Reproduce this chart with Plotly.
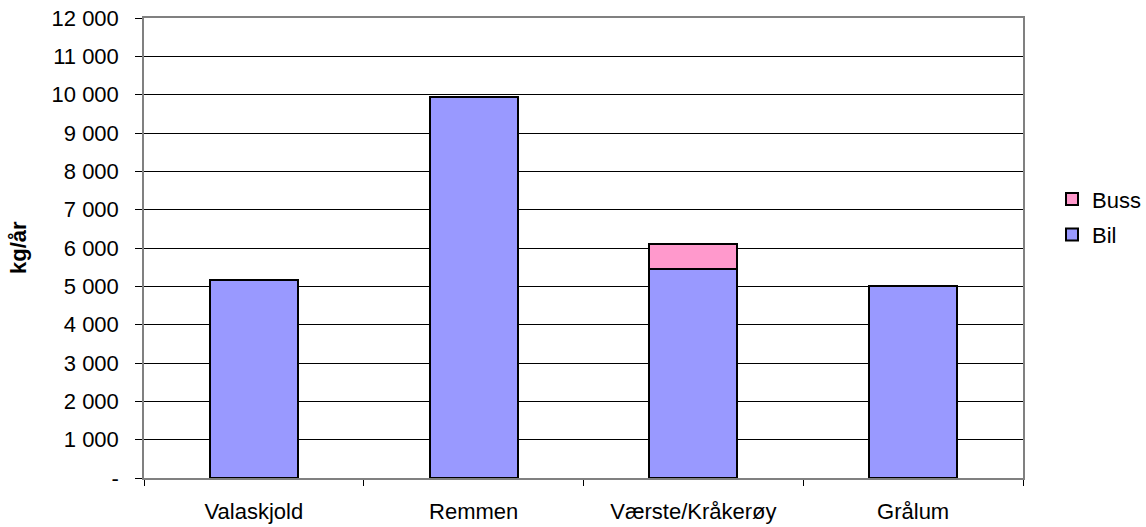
import plotly.graph_objects as go

categories = ["Valaskjold", "Remmen", "Værste/Kråkerøy", "Grålum"]
bil = [5170, 9930, 5445, 5015]
buss = [None, None, 665, None]
y_tickvals = [0, 1000, 2000, 3000, 4000, 5000, 6000, 7000, 8000, 9000, 10000, 11000, 12000]
y_ticktext = ["-", "1 000", "2 000", "3 000", "4 000", "5 000", "6 000", "7 000",
              "8 000", "9 000", "10 000", "11 000", "12 000"]

FONT = "Liberation Sans, Arial, sans-serif"

fig = go.Figure()
fig.add_trace(go.Bar(x=categories, y=buss, name="Buss", width=0.4,
                     marker=dict(color="#FF99CC", line=dict(color="black", width=2)),
                     legendgroup="g1", legendrank=1))
fig.add_trace(go.Bar(x=categories, y=bil, name="Bil", width=0.4,
                     marker=dict(color="#9999FF", line=dict(color="black", width=2)),
                     legendgroup="g2", legendrank=2))
# draw Bil below Buss in the stack
fig.data = (fig.data[1], fig.data[0])

fig.add_annotation(text="<b>kg/år</b>", xref="paper", yref="paper",
                   x=(18 - 144) / 879, y=0.5, textangle=-90, showarrow=False,
                   font=dict(size=22, family=FONT, color="black"),
                   xanchor="center", yanchor="middle")

fig.update_layout(
    width=1146, height=527,
    barmode="stack",
    paper_bgcolor="white", plot_bgcolor="white",
    font=dict(family=FONT, size=22, color="black"),
    margin=dict(l=144, r=123, t=18, b=49, autoexpand=False),
    showlegend=True,
    legend=dict(x=1.033, xanchor="left", y=0.567, yanchor="middle",
                traceorder="grouped", tracegroupgap=4, itemsizing="constant",
                font=dict(size=22), bgcolor="rgba(0,0,0,0)"),
    xaxis=dict(type="category", showgrid=False, ticks="outside", tickson="boundaries",
               ticklen=6, tickcolor="black", showline=True, linecolor="#808080",
               linewidth=1.5, mirror=True, ticklabelstandoff=13, automargin=False),
    yaxis=dict(range=[0, 12000], tickvals=y_tickvals, ticktext=y_ticktext,
               showgrid=True, gridcolor="black", gridwidth=1,
               ticks="outside", ticklen=7, tickcolor="black",
               showline=True, linecolor="#808080", linewidth=1.5, mirror=True,
               ticklabelstandoff=12, zeroline=False, automargin=False),
)

fig.write_html("out.html")
